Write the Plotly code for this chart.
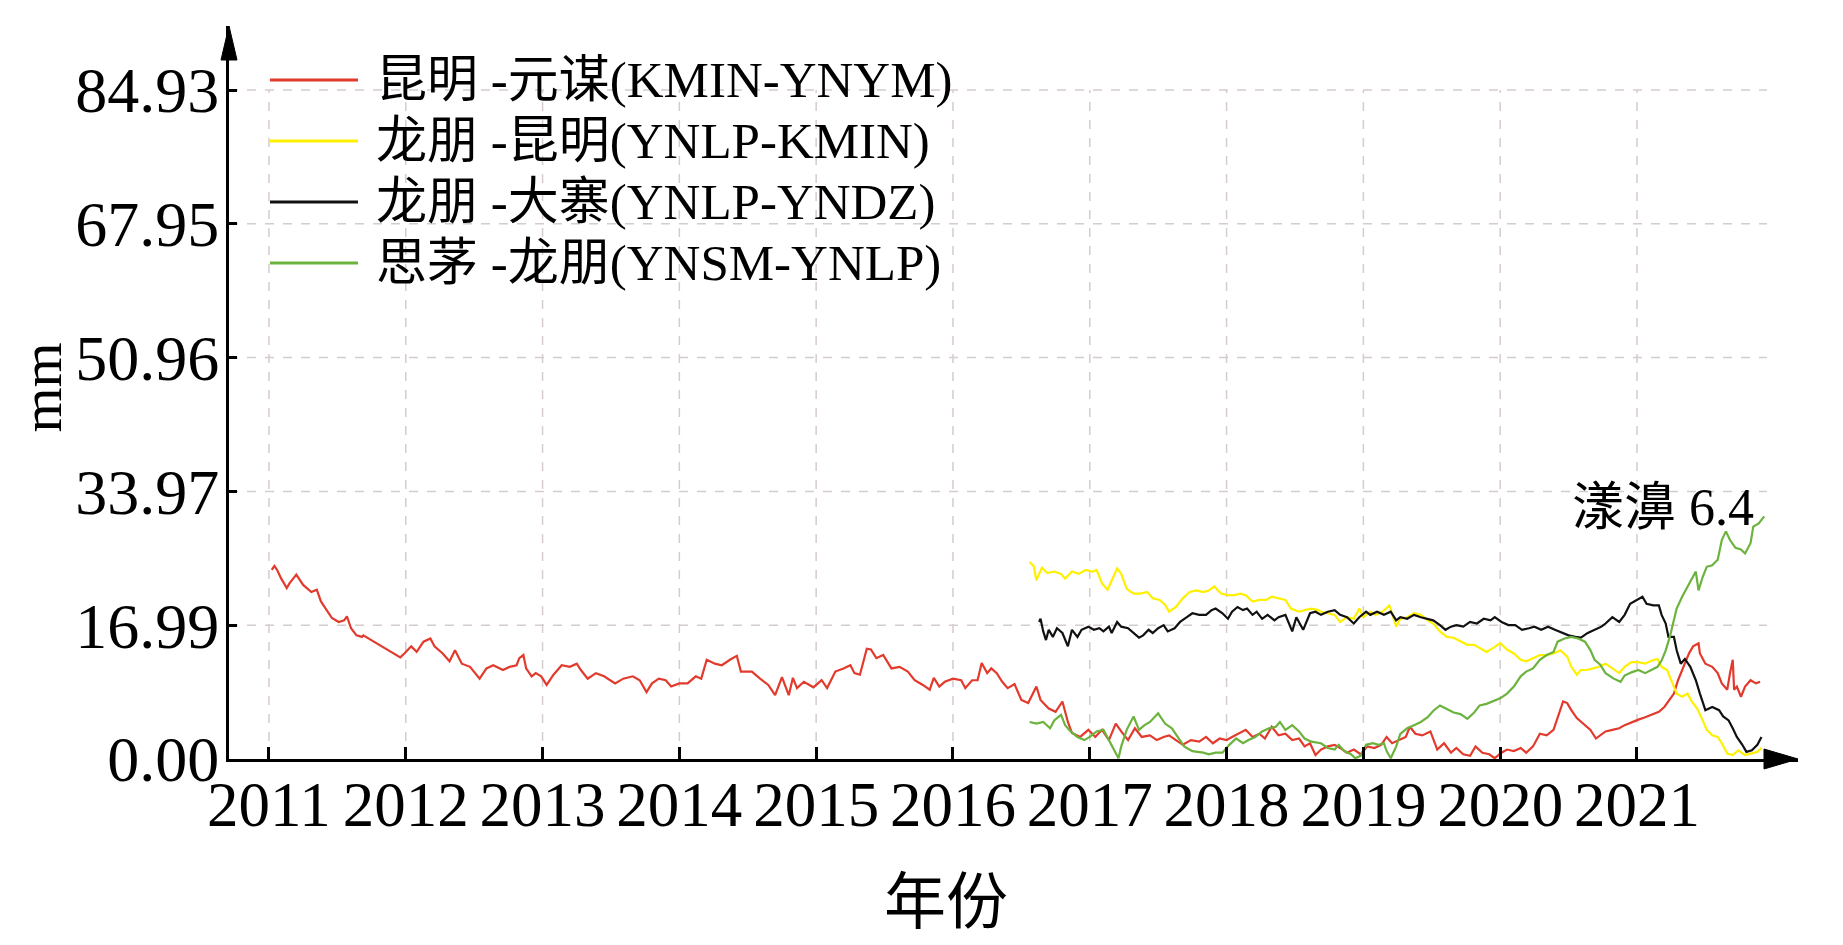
import plotly.graph_objects as go

# ---- data (decimal year, mm) ----
red_t = [2011.02, 2011.04, 2011.06, 2011.09, 2011.13, 2011.15, 2011.20, 2011.25, 2011.31, 2011.35,
         2011.38, 2011.42, 2011.46, 2011.51, 2011.55, 2011.57, 2011.60, 2011.64, 2011.68, 2011.69,
         2011.96, 2011.99, 2012.04, 2012.08, 2012.13, 2012.18, 2012.21, 2012.27, 2012.32, 2012.36,
         2012.41, 2012.47, 2012.54, 2012.59, 2012.64, 2012.71, 2012.76, 2012.81, 2012.83, 2012.86,
         2012.88, 2012.92, 2012.95, 2012.99, 2013.03, 2013.08, 2013.14, 2013.20, 2013.25, 2013.28,
         2013.33, 2013.39, 2013.45, 2013.53, 2013.59, 2013.66, 2013.71, 2013.76, 2013.80, 2013.85,
         2013.90, 2013.94, 2014.00, 2014.06, 2014.12, 2014.16, 2014.20, 2014.26, 2014.31, 2014.37,
         2014.42, 2014.45, 2014.53, 2014.59, 2014.65, 2014.70, 2014.75, 2014.80, 2014.83, 2014.86,
         2014.91, 2014.98, 2015.04, 2015.08, 2015.14, 2015.20, 2015.25, 2015.28, 2015.32, 2015.37,
         2015.40, 2015.44, 2015.49, 2015.55, 2015.61, 2015.67, 2015.72, 2015.78, 2015.83, 2015.86,
         2015.90, 2015.94, 2016.00, 2016.06, 2016.09, 2016.14, 2016.18, 2016.21, 2016.25, 2016.28,
         2016.32, 2016.36, 2016.40, 2016.45, 2016.50, 2016.55, 2016.61, 2016.64, 2016.70, 2016.75,
         2016.80, 2016.84, 2016.87, 2016.93, 2016.99, 2017.04, 2017.09, 2017.14, 2017.19, 2017.23,
         2017.28, 2017.33, 2017.38, 2017.44, 2017.49, 2017.54, 2017.58, 2017.63, 2017.68, 2017.74,
         2017.80, 2017.85, 2017.90, 2017.95, 2018.00, 2018.04, 2018.09, 2018.14, 2018.19, 2018.24,
         2018.28, 2018.33, 2018.38, 2018.43, 2018.48, 2018.53, 2018.57, 2018.61, 2018.65, 2018.69,
         2018.74, 2018.79, 2018.83, 2018.88, 2018.93, 2018.98, 2019.03, 2019.08, 2019.13, 2019.17,
         2019.21, 2019.26, 2019.31, 2019.34, 2019.38, 2019.43, 2019.49, 2019.54, 2019.59, 2019.64,
         2019.68, 2019.73, 2019.78, 2019.82, 2019.87, 2019.92, 2019.96, 2020.01, 2020.05, 2020.10,
         2020.15, 2020.19, 2020.24, 2020.29, 2020.34, 2020.39, 2020.42, 2020.46, 2020.49, 2020.52,
         2020.56, 2020.61, 2020.66, 2020.70, 2020.77, 2020.82, 2020.87, 2020.91, 2020.96, 2021.01,
         2021.06, 2021.11, 2021.16, 2021.20, 2021.23, 2021.27, 2021.30, 2021.34, 2021.38, 2021.41,
         2021.45, 2021.46, 2021.50, 2021.55, 2021.59, 2021.62, 2021.66, 2021.68, 2021.70, 2021.71,
         2021.73, 2021.76, 2021.79, 2021.83, 2021.87, 2021.90]
red_v = [24.0, 24.5, 24.0, 22.9, 21.7, 22.3, 23.4, 22.1, 21.2, 21.5,
         20.0, 18.9, 17.9, 17.4, 17.6, 18.1, 16.6, 15.7, 15.5, 15.7,
         12.9, 13.4, 14.3, 13.6, 14.9, 15.3, 14.3, 13.4, 12.4, 13.8,
         12.1, 11.7, 10.2, 11.5, 11.9, 11.3, 11.7, 11.9, 12.8, 13.2,
         11.5, 10.5, 10.9, 10.5, 9.4, 10.7, 11.9, 11.7, 12.1, 11.3,
         10.2, 10.9, 10.5, 9.6, 10.2, 10.5, 10.0, 8.5, 9.6, 10.2,
         10.0, 9.2, 9.6, 9.6, 10.5, 10.2, 12.6, 12.1, 11.9, 12.6,
         13.1, 11.1, 11.1, 10.2, 9.4, 8.1, 10.4, 8.1, 10.3, 9.0,
         9.8, 9.1, 10.0, 9.0, 11.1, 11.5, 11.9, 10.9, 10.7, 14.0,
         13.9, 12.8, 13.2, 11.5, 11.7, 11.1, 10.0, 9.4, 8.8, 10.3,
         9.2, 9.8, 10.2, 10.0, 9.0, 10.0, 10.0, 12.2, 10.9, 11.5,
         10.9, 9.8, 9.0, 9.5, 7.5, 7.1, 9.2, 7.5, 6.4, 6.0,
         7.3, 4.7, 3.3, 2.8, 3.7, 2.8, 3.7, 2.4, 4.5, 3.5,
         2.4, 3.9, 2.8, 3.0, 2.4, 2.8, 3.0, 2.4, 1.8, 2.4,
         2.2, 2.8, 2.0, 2.6, 2.4, 2.8, 3.2, 3.7, 2.8, 3.2,
         2.6, 4.1, 3.0, 3.2, 2.4, 2.6, 1.6, 2.0, 0.5, 1.2,
         1.6, 1.8, 1.4, 0.8, 1.2, 0.6, 1.6, 1.4, 1.8, 2.8,
         2.0, 2.4, 2.8, 4.1, 3.2, 3.0, 3.5, 1.2, 2.0, 0.8,
         1.4, 0.6, 0.4, 1.6, 0.8, 0.6, 0.1, 0.8, 1.2, 1.0,
         1.4, 0.8, 1.6, 3.2, 3.0, 3.7, 5.2, 7.3, 7.1, 6.2,
         5.2, 4.5, 3.7, 2.6, 3.5, 3.7, 3.9, 4.3, 4.7, 5.0,
         5.3, 5.6, 6.0, 6.6, 7.4, 8.3, 10.0, 11.7, 13.4, 14.3,
         14.7, 13.4, 12.1, 11.7, 10.9, 9.6, 8.8, 10.9, 12.6, 8.8,
         9.2, 7.9, 9.2, 10.0, 9.6, 9.8]

yellow_t = [2016.56, 2016.59, 2016.61, 2016.65, 2016.69, 2016.74, 2016.79, 2016.82, 2016.87, 2016.92,
            2016.97, 2017.02, 2017.05, 2017.09, 2017.13, 2017.16, 2017.20, 2017.23, 2017.27, 2017.32,
            2017.37, 2017.42, 2017.46, 2017.51, 2017.55, 2017.58, 2017.63, 2017.68, 2017.73, 2017.78,
            2017.83, 2017.87, 2017.91, 2017.96, 2018.01, 2018.06, 2018.10, 2018.14, 2018.19, 2018.24,
            2018.29, 2018.33, 2018.38, 2018.43, 2018.47, 2018.53, 2018.57, 2018.62, 2018.67, 2018.69,
            2018.74, 2018.79, 2018.83, 2018.88, 2018.93, 2018.97, 2019.00, 2019.05, 2019.09, 2019.14,
            2019.19, 2019.24, 2019.27, 2019.32, 2019.37, 2019.42, 2019.47, 2019.51, 2019.56, 2019.61,
            2019.66, 2019.71, 2019.76, 2019.81, 2019.85, 2019.90, 2019.95, 2020.00, 2020.05, 2020.10,
            2020.15, 2020.19, 2020.24, 2020.29, 2020.34, 2020.39, 2020.44, 2020.49, 2020.52, 2020.56,
            2020.59, 2020.63, 2020.68, 2020.72, 2020.77, 2020.82, 2020.87, 2020.91, 2020.96, 2021.01,
            2021.06, 2021.11, 2021.15, 2021.18, 2021.22, 2021.26, 2021.29, 2021.33, 2021.37, 2021.40,
            2021.44, 2021.48, 2021.51, 2021.55, 2021.59, 2021.62, 2021.66, 2021.70, 2021.74, 2021.79,
            2021.84, 2021.88, 2021.91]
yellow_v = [25.0, 24.5, 22.7, 24.3, 23.6, 23.8, 23.5, 22.9, 23.8, 23.5,
            24.0, 23.8, 24.0, 22.3, 21.5, 22.7, 24.2, 23.5, 21.6, 21.0,
            21.0, 21.2, 20.4, 20.2, 19.6, 18.7, 19.3, 20.4, 21.2, 21.4,
            21.2, 21.4, 21.9, 21.0, 20.8, 20.8, 21.0, 20.8, 20.0, 20.2,
            20.2, 20.6, 20.4, 20.2, 19.1, 18.7, 18.9, 19.1, 18.9, 18.7,
            18.5, 18.3, 17.4, 18.0, 17.8, 19.1, 18.0, 18.7, 18.3, 18.7,
            19.5, 16.8, 17.8, 18.0, 18.5, 18.3, 17.6, 17.2, 16.2, 15.5,
            15.4, 14.9, 14.5, 14.5, 14.1, 13.6, 14.1, 14.7, 13.9, 13.4,
            12.6, 12.4, 12.8, 13.2, 13.2, 13.4, 13.8, 13.0, 11.7, 10.7,
            11.3, 11.3, 11.5, 11.7, 12.1, 11.5, 10.9, 11.7, 12.3, 12.3,
            12.1, 12.5, 12.7, 11.7, 11.3, 9.6, 8.3, 7.9, 8.3, 7.3,
            6.4, 4.9, 3.7, 3.0, 2.8, 2.0, 0.7, 0.5, 1.1, 0.5,
            0.7, 0.9, 1.4]

black_t = [2016.63, 2016.64, 2016.66, 2016.68, 2016.70, 2016.73, 2016.76, 2016.80, 2016.84, 2016.87,
           2016.91, 2016.94, 2016.99, 2017.03, 2017.07, 2017.10, 2017.14, 2017.16, 2017.20, 2017.23,
           2017.28, 2017.32, 2017.36, 2017.39, 2017.43, 2017.46, 2017.50, 2017.54, 2017.57, 2017.62,
           2017.66, 2017.71, 2017.75, 2017.80, 2017.85, 2017.89, 2017.92, 2017.97, 2018.01, 2018.04,
           2018.08, 2018.12, 2018.15, 2018.19, 2018.22, 2018.26, 2018.30, 2018.35, 2018.38, 2018.43,
           2018.48, 2018.51, 2018.56, 2018.61, 2018.65, 2018.69, 2018.74, 2018.79, 2018.83, 2018.88,
           2018.93, 2018.97, 2019.02, 2019.05, 2019.10, 2019.15, 2019.20, 2019.24, 2019.27, 2019.32,
           2019.37, 2019.42, 2019.47, 2019.51, 2019.56, 2019.60, 2019.64, 2019.68, 2019.73, 2019.78,
           2019.83, 2019.88, 2019.93, 2019.96, 2020.01, 2020.06, 2020.11, 2020.16, 2020.21, 2020.25,
           2020.30, 2020.35, 2020.40, 2020.45, 2020.50, 2020.55, 2020.59, 2020.64, 2020.69, 2020.74,
           2020.77, 2020.82, 2020.87, 2020.91, 2020.95, 2021.00, 2021.04, 2021.07, 2021.12, 2021.16,
           2021.18, 2021.21, 2021.23, 2021.27, 2021.29, 2021.32, 2021.35, 2021.39, 2021.43, 2021.46,
           2021.50, 2021.55, 2021.60, 2021.63, 2021.67, 2021.70, 2021.73, 2021.77, 2021.80, 2021.84,
           2021.88, 2021.91]
black_v = [17.4, 17.8, 16.2, 15.1, 16.4, 15.5, 16.6, 16.0, 14.3, 16.4,
           15.5, 16.4, 16.8, 16.4, 16.6, 16.2, 16.8, 16.0, 17.4, 16.8,
           16.6, 16.0, 15.4, 15.7, 16.4, 16.0, 16.6, 17.0, 16.2, 16.6,
           17.4, 18.0, 18.5, 18.3, 18.3, 18.9, 19.1, 18.5, 17.8, 18.7,
           19.3, 18.9, 19.1, 18.3, 18.7, 17.8, 18.3, 17.6, 18.0, 18.3,
           16.2, 18.0, 16.4, 18.5, 18.7, 18.3, 18.7, 18.9, 18.3, 18.0,
           17.2, 18.0, 18.7, 18.3, 18.7, 18.3, 18.7, 17.6, 18.0, 17.8,
           18.3, 18.0, 17.8, 17.6, 17.0, 16.4, 16.8, 17.0, 16.8, 17.4,
           17.2, 17.8, 17.6, 18.0, 17.4, 17.0, 17.0, 16.4, 16.6, 16.8,
           16.4, 16.8, 16.4, 16.0, 15.7, 15.5, 15.4, 16.0, 16.4, 16.8,
           17.2, 18.0, 17.4, 18.3, 19.7, 20.2, 20.6, 19.7, 19.5, 19.5,
           18.3, 17.2, 15.5, 15.5, 13.8, 12.1, 12.7, 11.7, 10.0, 8.3,
           6.2, 6.6, 6.2, 5.4, 4.9, 3.9, 2.8, 1.8, 0.9, 1.1,
           1.8, 2.8]

green_t = [2016.56, 2016.61, 2016.66, 2016.71, 2016.74, 2016.79, 2016.82, 2016.86, 2016.91, 2016.96,
           2017.00, 2017.05, 2017.10, 2017.14, 2017.17, 2017.21, 2017.23, 2017.27, 2017.32, 2017.36,
           2017.40, 2017.44, 2017.50, 2017.55, 2017.60, 2017.64, 2017.69, 2017.75, 2017.83, 2017.87,
           2017.92, 2017.97, 2018.02, 2018.07, 2018.12, 2018.16, 2018.21, 2018.26, 2018.31, 2018.36,
           2018.39, 2018.43, 2018.48, 2018.53, 2018.57, 2018.62, 2018.69, 2018.74, 2018.79, 2018.82,
           2018.86, 2018.91, 2018.94, 2018.98, 2019.02, 2019.07, 2019.11, 2019.15, 2019.17, 2019.20,
           2019.24, 2019.27, 2019.32, 2019.37, 2019.42, 2019.47, 2019.51, 2019.56, 2019.61, 2019.66,
           2019.71, 2019.76, 2019.81, 2019.85, 2019.90, 2019.95, 2020.00, 2020.05, 2020.10, 2020.15,
           2020.19, 2020.24, 2020.29, 2020.34, 2020.39, 2020.42, 2020.47, 2020.52, 2020.57, 2020.62,
           2020.66, 2020.69, 2020.73, 2020.77, 2020.83, 2020.88, 2020.91, 2020.96, 2021.01, 2021.06,
           2021.11, 2021.15, 2021.18, 2021.21, 2021.24, 2021.27, 2021.29, 2021.33, 2021.37, 2021.40,
           2021.43, 2021.45, 2021.48, 2021.51, 2021.55, 2021.59, 2021.62, 2021.65, 2021.68, 2021.72,
           2021.76, 2021.79, 2021.83, 2021.85, 2021.89, 2021.93]
green_v = [4.7, 4.5, 4.7, 3.9, 4.9, 5.6, 4.3, 3.5, 2.8, 2.4,
           2.8, 3.5, 3.7, 2.4, 1.6, 0.1, 1.6, 3.7, 5.4, 3.7,
           4.3, 4.7, 5.8, 4.5, 3.9, 2.8, 1.6, 1.0, 0.8, 0.6,
           0.8, 0.8, 1.8, 2.6, 2.0, 2.4, 2.8, 3.5, 3.9, 4.1,
           4.7, 3.7, 4.3, 3.5, 2.6, 2.2, 2.0, 1.4, 1.2, 1.8,
           1.0, 0.6, 0.1, 0.4, 1.8, 2.0, 1.8, 2.0, 1.0, 0.1,
           1.6, 3.2, 3.9, 4.3, 4.7, 5.3, 6.1, 6.8, 6.4, 5.9,
           5.7, 5.1, 5.9, 6.8, 7.0, 7.4, 7.7, 8.3, 9.2, 10.5,
           11.1, 11.5, 12.6, 13.2, 13.6, 14.9, 15.3, 15.5, 15.3, 14.9,
           13.8, 12.6, 12.0, 10.9, 10.2, 9.8, 10.6, 11.0, 11.3, 10.9,
           11.3, 11.7, 12.5, 13.8, 15.5, 17.6, 19.1, 20.6, 21.9, 22.7,
           23.8, 21.4, 23.1, 24.4, 24.6, 25.3, 27.8, 28.9, 27.8, 26.8,
           26.6, 26.1, 27.4, 29.5, 29.9, 30.8]

names = ["昆明 -元谋(KMIN-YNYM)", "龙朋 -昆明(YNLP-KMIN)", "龙朋 -大寨(YNLP-YNDZ)", "思茅 -龙朋(YNSM-YNLP)"]
colors = ["#e23a2c", "#fff000", "#111111", "#6cb33e"]

years = list(range(2011, 2022))
y_ticks = [0, 16.986, 33.972, 50.958, 67.944, 84.93]
y_labels = ["0.00", "16.99", "33.97", "50.96", "67.95", "84.93"]

FONT = "Liberation Serif, Noto Sans CJK SC, serif"
X_MIN, X_MAX = 2010.708, 2022.177
Y_MAX = 93.06
GRID = dict(color="#d6cccc", width=1.5, dash="dash")

fig = go.Figure()
series = [(red_t, red_v), (yellow_t, yellow_v), (black_t, black_v), (green_t, green_v)]
for (t, v), name, c in zip(series, names, colors):
    fig.add_trace(go.Scatter(x=t, y=v, mode="lines", name=name,
                             line=dict(color=c, width=2.2)))

# dashed grid, bounded like the original
shapes = []
for yr in years:
    shapes.append(dict(type="line", xref="x", yref="y", x0=yr, x1=yr, y0=0, y1=84.93,
                       line=GRID, layer="below"))
for yv in y_ticks[1:]:
    shapes.append(dict(type="line", xref="x", yref="y", x0=X_MIN, x1=2021.95, y0=yv, y1=yv,
                       line=GRID, layer="below"))
# axis arrow heads
shapes.append(dict(type="path", xref="paper", yref="paper", xsizemode="pixel", ysizemode="pixel",
                   xanchor=0, yanchor=1, path="M -8,-34 L 0,0 L 8,-34 Z",
                   fillcolor="black", line=dict(color="black", width=1)))
shapes.append(dict(type="path", xref="paper", yref="paper", xsizemode="pixel", ysizemode="pixel",
                   xanchor=1, yanchor=0, path="M -34,-10 L 0,0 L -34,10 Z",
                   fillcolor="black", line=dict(color="black", width=1)))

# legend drawn by hand so the rows sit where the original puts them
annotations = []
legend_rows = [0.9263, 0.8431, 0.7599, 0.6767]
for name, c, ry in zip(names, colors, legend_rows):
    shapes.append(dict(type="line", xref="paper", yref="paper", x0=0.0261, x1=0.0822,
                       y0=ry, y1=ry, line=dict(color=c, width=3)))
    annotations.append(dict(x=0.0924, y=ry, xref="paper", yref="paper", text=name,
                            showarrow=False, xanchor="left", yanchor="middle",
                            font=dict(size=51, family=FONT)))

annotations += [
    dict(x=2021.19, y=31.9, xref="x", yref="y", text="漾濞 6.4", showarrow=False,
         xanchor="center", yanchor="middle", font=dict(size=52, family=FONT)),
    dict(x=0.457, y=-0.1965, xref="paper", yref="paper", text="年份", showarrow=False,
         xanchor="center", yanchor="middle", font=dict(size=62, family=FONT)),
    dict(x=-0.1195, y=0.506, xref="paper", yref="paper", text="mm", showarrow=False,
         xanchor="center", yanchor="middle", textangle=-90, font=dict(size=58, family=FONT)),
]

fig.update_layout(
    width=1827, height=929,
    margin=dict(l=221, r=37, t=18, b=178),
    plot_bgcolor="white", paper_bgcolor="white",
    font=dict(family=FONT, color="black"),
    shapes=shapes,
    annotations=annotations,
    showlegend=False,
)
fig.update_xaxes(range=[X_MIN, X_MAX], showgrid=False, zeroline=False, automargin=False,
                 showline=True, linecolor="black", linewidth=3,
                 ticks="inside", ticklen=12, tickwidth=3, tickcolor="black",
                 tickvals=years, ticktext=[str(y) for y in years],
                 ticklabelstandoff=-12,
                 tickfont=dict(size=63, family=FONT))
fig.update_yaxes(range=[0, Y_MAX], showgrid=False, zeroline=False, automargin=False,
                 showline=True, linecolor="black", linewidth=3,
                 ticks="inside", ticklen=8, tickwidth=3, tickcolor="black",
                 tickvals=y_ticks, ticktext=y_labels,
                 ticklabelstandoff=-6,
                 tickfont=dict(size=64, family=FONT))

fig.write_html("out.html")
